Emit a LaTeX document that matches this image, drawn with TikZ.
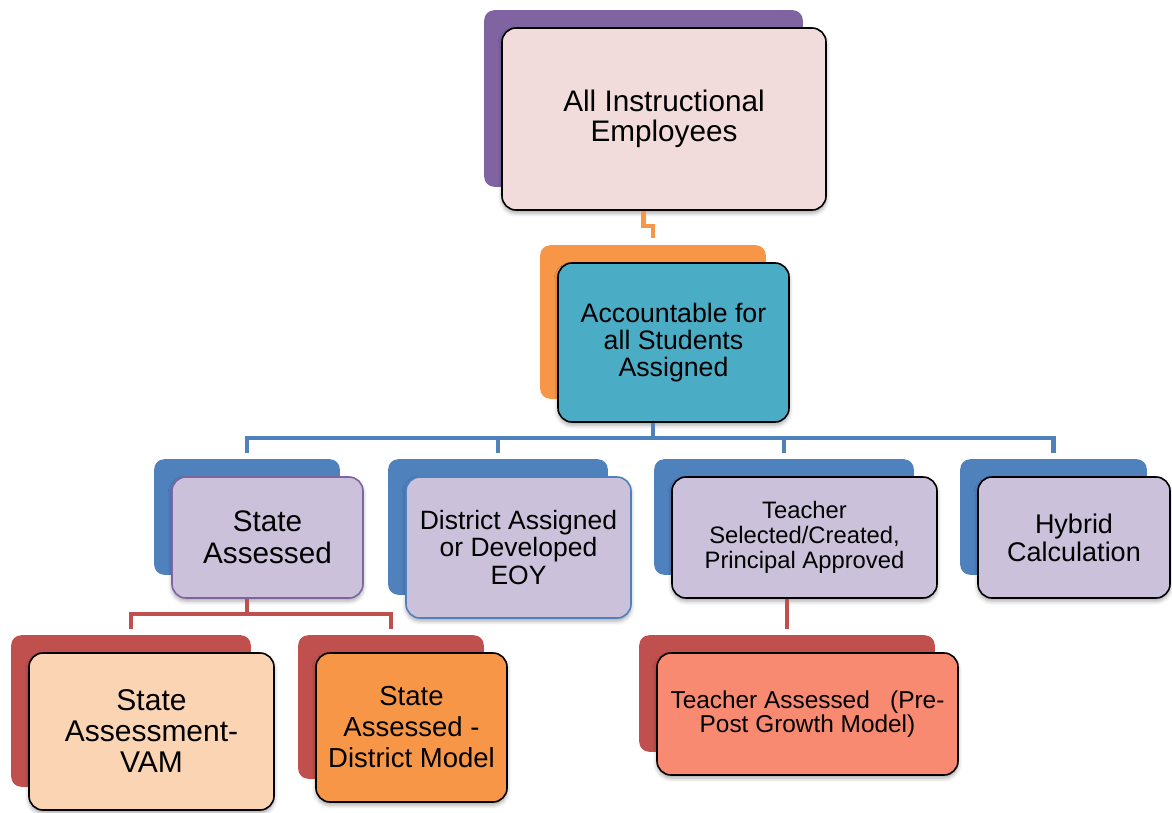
\documentclass[tikz,border=0pt]{standalone}
\usepackage{fontspec}
\setmainfont{Liberation Sans}
\usetikzlibrary{calc,fit,backgrounds,shadows.blur}

\definecolor{boxpurple}{HTML}{8064A2}
\definecolor{boxpink}{HTML}{F2DCDB}
\definecolor{boxorange}{HTML}{F79646}
\definecolor{boxteal}{HTML}{4BACC6}
\definecolor{boxblue}{HTML}{4F81BD}
\definecolor{boxlilac}{HTML}{CCC1DA}
\definecolor{boxred}{HTML}{C0504D}
\definecolor{boxpeach}{HTML}{FBD4B4}
\definecolor{boxsalmon}{HTML}{F88A72}

\tikzset{
  front/.style={draw=black, line width=1.6pt, rounded corners=14pt,
    align=center, inner sep=0pt,
    blur shadow={shadow xshift=0pt, shadow yshift=-3pt,
      shadow blur radius=4pt, shadow opacity=35}},
  back/.style={rounded corners=10pt, inner sep=0pt, draw=none},
  fs/.style 2 args={font=\fontsize{#1}{#2}\selectfont},
  link/.style={line width=4.5pt},
}

\begin{document}
\begin{tikzpicture}[x=1pt, y=-1pt]

\useasboundingbox (0,0) rectangle (1172,812);

% 第一层:全体教学人员
\node[front, fill=boxpink, fs={29.7}{30}, minimum width=324pt, minimum height=182pt]
  (top) at (664,119) {All Instructional\\Employees};

% 第二层:对所有学生负责
\node[front, fill=boxteal, fs={26.7}{27}, minimum width=231pt, minimum height=159pt]
  (acc) at (673.5,342.5) {Accountable for\\all Students\\Assigned};

% 第三层:四种方式
\node[front, fill=boxlilac, draw=boxpurple, fs={29.7}{32}, minimum width=191pt, minimum height=121pt]
  (sa) at (267.5,537.5) {State\\Assessed};
\node[front, fill=boxlilac, draw=boxblue, fs={26.5}{27.5}, minimum width=225pt, minimum height=141pt]
  (di) at (518.5,547.5) {District Assigned\\or Developed\\EOY};
\node[front, fill=boxlilac, fs={23.8}{25}, minimum width=265pt, minimum height=121pt]
  (ts) at (804.5,537.5) {Teacher\\Selected/Created,\\Principal Approved};
\node[front, fill=boxlilac, fs={27}{28}, minimum width=192pt, minimum height=121pt]
  (hy) at (1074,537.5) {Hybrid\\Calculation};

% 第四层
\node[front, fill=boxpeach, fs={30}{31}, minimum width=245pt, minimum height=157pt]
  (vam) at (151.5,731.5) {State\\Assessment-\\VAM};
\node[front, fill=boxorange, fs={27.5}{31}, minimum width=191pt, minimum height=149pt]
  (dm) at (411.5,727.5) {State\\Assessed -\\District Model};
\node[front, fill=boxsalmon, fs={24.4}{24.5}, minimum width=301pt, minimum height=122pt]
  (ta) at (807.5,714) {Teacher Assessed~~~(Pre-\\Post Growth Model)};

% 后面的彩色衬底方块
\begin{scope}[on background layer]
  \node[back, fill=boxpurple, fit={($(top.north west)+(-17,-17)$) ($(top.south east)+(-24,-24)$)}] (topB) {};
  \node[back, fill=boxorange, fit={($(acc.north west)+(-17,-17)$) ($(acc.south east)+(-24,-24)$)}] (accB) {};
  \foreach \n in {sa,di,ts,hy}
    \node[back, fill=boxblue, fit={($(\n.north west)+(-17,-17)$) ($(\n.south east)+(-24,-24)$)}] (\n B) {};
  \foreach \n in {vam,dm,ta}
    \node[back, fill=boxred, fit={($(\n.north west)+(-17,-17)$) ($(\n.south east)+(-24,-24)$)}] (\n B) {};
\end{scope}

% 连线:橙色
\draw[link, boxorange] (topB.south |- top.south) -- ++(0,15) -| ([yshift=7pt]accB.north);

% 连线:蓝色
\draw[link, boxblue] (accB.south |- acc.south) -- ++(0,16);
\draw[link, boxblue] ([yshift=6pt]saB.north) -- ++(0,-15) -| ([yshift=6pt]hyB.north);
\foreach \n in {diB,tsB}
  \draw[link, boxblue] ([yshift=6pt]\n.north) -- ++(0,-15);

% 连线:红色
\draw[link, boxred] (saB.south |- sa.south) -- ++(0,17);
\draw[link, boxred] ([yshift=6pt]vamB.north) -- ++(0,-15) -| ([yshift=6pt]dmB.north);
\draw[link, boxred] (taB.north |- ts.south) -- ([yshift=6pt]taB.north);

\end{tikzpicture}
\end{document}
